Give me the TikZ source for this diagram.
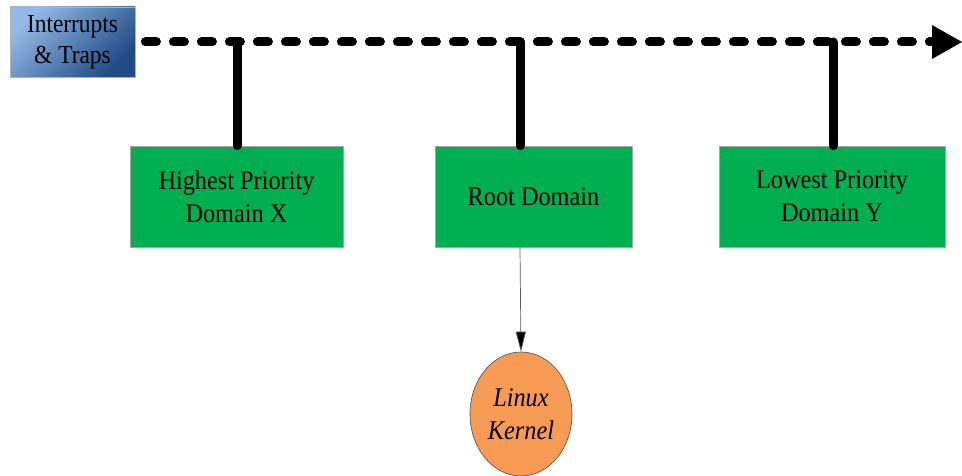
\documentclass[tikz,border=0pt]{standalone}
\usepackage{fontspec}
\setmainfont[FakeStretch=0.9]{Liberation Serif}
\usetikzlibrary{arrows.meta,shapes.geometric}
\definecolor{boxgreen}{HTML}{00B050}
\definecolor{kernelorange}{HTML}{F79A54}
\definecolor{bluelight}{HTML}{95B9E6}
\definecolor{bluedark}{HTML}{1F4A85}
\begin{document}
\begin{tikzpicture}[x=1pt,y=-1pt,
  domainbox/.style={draw=gray!70, line width=0.8pt, fill=boxgreen, minimum width=#1, minimum height=101pt, align=center, font=\fontsize{27}{33}\selectfont, inner sep=0pt},
  thickbar/.style={line width=9pt, line cap=round},
  timeline/.style={line width=9pt, line cap=round, dash pattern=on 11pt off 17pt},
]
\useasboundingbox (0,0) rectangle (962,476);
\node[draw=gray!60, line width=0.8pt, left color=bluelight, right color=bluedark, shading=axis, shading angle=45, minimum width=125pt, minimum height=70pt, inner sep=0pt, align=center, font=\fontsize{26}{31}\selectfont] (it) at (72.5,42) {Interrupts\\\& Traps};
\coordinate (tx) at (237,42);
\coordinate (tr) at (520,42);
\coordinate (ty) at (833,42);
\node[domainbox=213pt] (hx) at (236.5,196.5) {Highest Priority\\Domain X};
\node[domainbox=197pt] (rd) at (533.5,196.5) {Root Domain};
\node[domainbox=226pt] (ly) at (832,196.5) {Lowest Priority\\Domain Y};
\node[ellipse, draw=gray!60!black, line width=0.6pt, fill=kernelorange, minimum width=102pt, minimum height=124pt, inner sep=0pt, align=center, font=\itshape\fontsize{27}{33}\selectfont] (lk) at (521,414) {Linux\\Kernel};
% timeline
\draw[timeline] ([xshift=10pt]it.east) -- (932,42);
\fill (932,25) -- (962,42) -- (932,59) -- cycle;
% bars
\draw[thickbar] (tx) -- (tx |- hx.north);
\draw[thickbar] (tr) -- (tr |- rd.north);
\draw[thickbar] (ty) -- (ty |- ly.north);
% thin arrow
\draw[gray!70!black, line width=0.7pt, -{Triangle[length=20pt,width=10pt,fill=black]}] (tr |- rd.south) -- (lk.north);
\end{tikzpicture}
\end{document}
